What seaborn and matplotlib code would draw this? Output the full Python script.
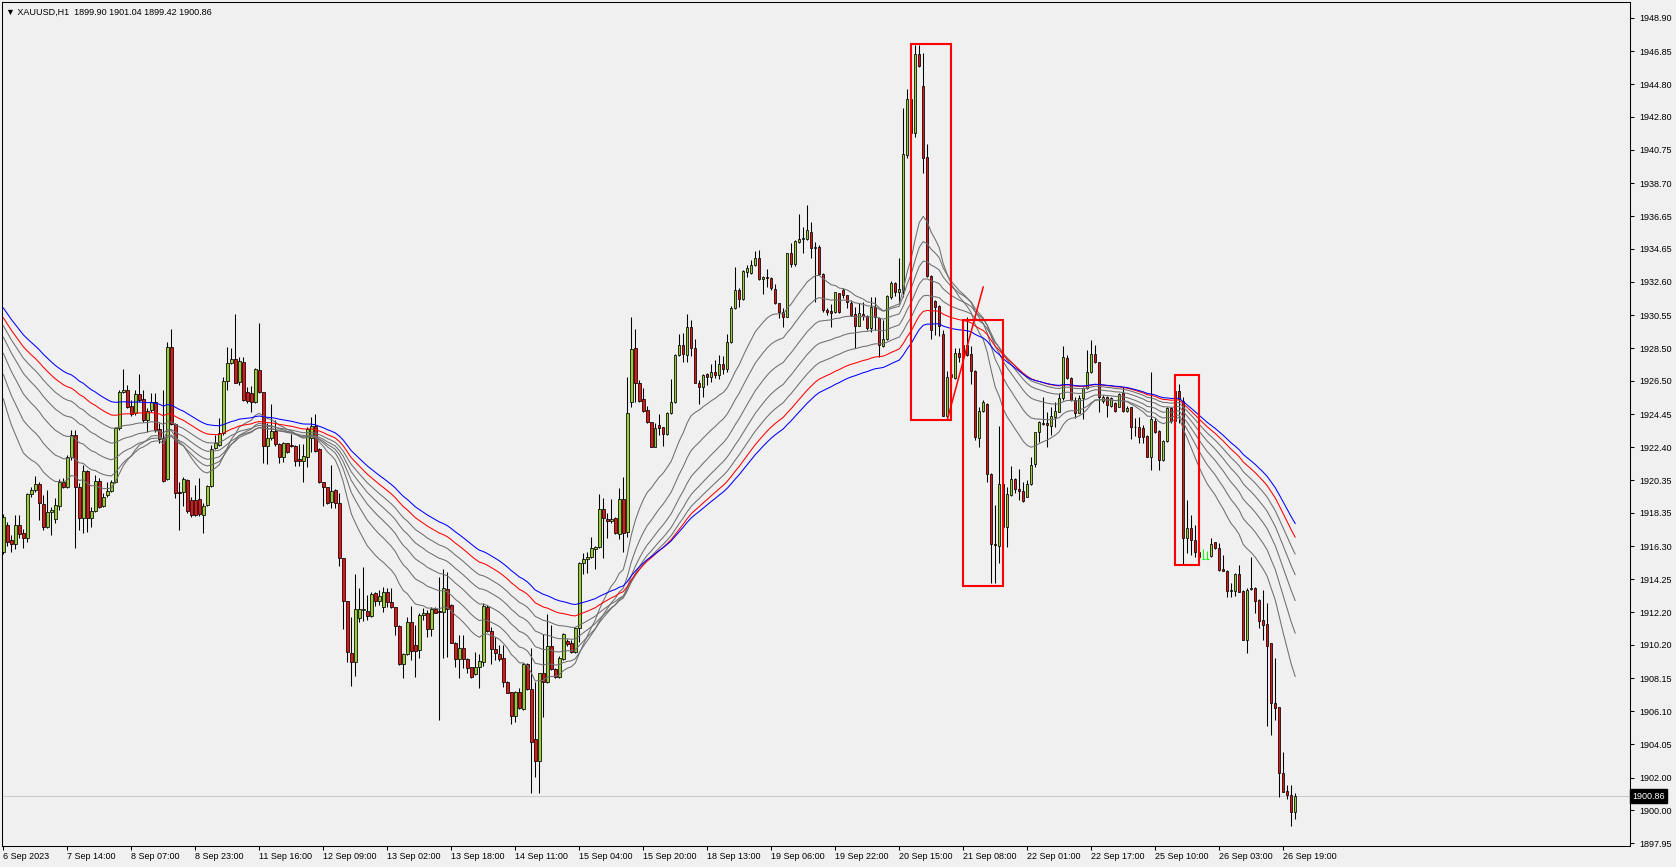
import numpy as np
import pandas as pd
import matplotlib
matplotlib.use("Agg")
import matplotlib.pyplot as plt
import seaborn as sns
from matplotlib.patches import Rectangle
from matplotlib.transforms import blended_transform_factory

# ---------------------------
# XAUUSD H1 candles (bar -1 is the one cut off at the left edge)
# ---------------------------
opens = [
    1915.95, 1917.60, 1916.67, 1916.40, 1917.58, 1917.08, 1916.77, 1919.49, 1919.74, 1920.11,
    1918.87, 1917.45, 1918.42, 1917.95, 1918.79, 1920.25, 1919.96, 1921.78, 1923.15, 1919.96,
    1918.01, 1920.93, 1918.01, 1918.46, 1920.31, 1918.79, 1919.43, 1919.70, 1920.23, 1923.61,
    1925.79, 1925.93, 1924.94, 1924.49, 1925.69, 1925.36, 1924.08, 1924.70, 1925.17, 1923.50,
    1922.95, 1920.42, 1928.57, 1923.83, 1919.66, 1919.62, 1920.38, 1919.14, 1919.14, 1919.18,
    1918.22, 1918.83, 1920.01, 1922.33, 1922.54, 1923.26, 1926.49, 1927.58, 1927.83, 1926.45,
    1927.66, 1925.79, 1925.73, 1925.21, 1927.17, 1925.79, 1922.50, 1922.95, 1923.40, 1922.58,
    1921.78, 1922.64, 1922.54, 1922.48, 1921.65, 1921.53, 1921.82, 1922.95, 1923.71, 1922.29,
    1920.23, 1919.92, 1919.00, 1919.76, 1918.94, 1915.54, 1912.91, 1909.67, 1909.16, 1911.84,
    1912.35, 1912.29, 1912.00, 1913.38, 1912.93, 1912.56, 1913.44, 1912.82, 1912.51, 1911.38,
    1909.00, 1909.61, 1911.59, 1910.19, 1909.88, 1912.02, 1912.14, 1911.16, 1912.39, 1912.29,
    1912.21, 1913.63, 1912.66, 1910.34, 1909.33, 1909.99, 1909.33, 1908.81, 1908.38, 1908.81,
    1909.16, 1912.52, 1911.08, 1909.92, 1909.62, 1909.37, 1907.93, 1907.27, 1905.83, 1907.27,
    1906.22, 1909.00, 1907.45, 1904.37, 1903.05, 1908.44, 1907.93, 1910.15, 1908.69, 1908.24,
    1909.33, 1910.44, 1910.33, 1909.78, 1911.22, 1915.23, 1915.50, 1915.64, 1916.10, 1916.22,
    1918.57, 1917.95, 1917.87, 1918.01, 1917.04, 1919.18, 1917.15, 1925.21, 1928.51, 1926.39,
    1925.36, 1924.70, 1923.94, 1922.43, 1923.77, 1923.63, 1923.20, 1924.49, 1925.17, 1928.09,
    1928.71, 1928.09, 1929.80, 1928.55, 1926.39, 1926.10, 1926.92, 1926.72, 1927.05, 1926.85,
    1927.55, 1927.25, 1928.92, 1930.98, 1932.11, 1931.53, 1933.24, 1933.13, 1933.65, 1934.06,
    1932.76, 1932.89, 1932.83, 1932.15, 1931.28, 1930.77, 1930.46, 1934.37, 1933.71, 1935.09,
    1935.23, 1935.23, 1935.67, 1934.68, 1934.78, 1933.07, 1930.87, 1930.81, 1930.73, 1931.90,
    1932.11, 1931.78, 1931.32, 1930.62, 1929.90, 1930.62, 1930.49, 1929.73, 1931.03, 1930.35,
    1928.64, 1929.05, 1931.69, 1932.55, 1931.99, 1932.10, 1940.43, 1943.87, 1941.77, 1946.67,
    1944.69, 1940.29, 1932.98, 1931.44, 1931.11, 1929.38, 1924.34, 1926.75, 1926.65, 1928.20,
    1927.95, 1928.71, 1928.16, 1927.11, 1922.99, 1924.64, 1925.05, 1920.75, 1916.41, 1916.32,
    1920.13, 1917.45, 1919.45, 1920.44, 1919.82, 1919.72, 1919.35, 1920.13, 1921.34, 1923.32,
    1923.81, 1923.88, 1923.73, 1924.29, 1924.60, 1925.42, 1927.89, 1926.66, 1925.32, 1924.54,
    1925.42, 1926.04, 1927.07, 1928.16, 1927.64, 1925.26, 1925.52, 1924.97, 1925.15, 1924.91,
    1925.73, 1924.66, 1924.87, 1923.63, 1923.63, 1923.57, 1923.10, 1921.82, 1924.04, 1923.40,
    1921.61, 1922.79, 1924.84, 1924.00, 1925.87, 1925.27, 1916.81, 1917.39, 1916.67, 1915.91,
    1915.53, 1915.53, 1915.70, 1916.52, 1916.15, 1914.88, 1914.77, 1913.54, 1913.54, 1914.55,
    1913.52, 1910.53, 1913.62, 1913.74, 1912.96, 1911.73, 1911.46, 1910.29, 1906.64, 1906.34,
    1902.32, 1901.17, 1900.96, 1899.90,
]
highs = [
    1918.30, 1917.80, 1916.98, 1918.22, 1918.22, 1917.33, 1919.55, 1919.96, 1920.62, 1920.27,
    1919.45, 1919.76, 1918.73, 1919.24, 1920.42, 1920.48, 1921.92, 1923.46, 1923.46, 1920.17,
    1921.30, 1920.99, 1918.73, 1920.68, 1920.48, 1919.55, 1920.27, 1920.38, 1923.67, 1925.93,
    1927.20, 1926.24, 1925.32, 1925.93, 1926.90, 1925.93, 1924.80, 1925.73, 1925.73, 1923.88,
    1925.93, 1928.88, 1929.68, 1923.88, 1920.27, 1920.58, 1920.42, 1919.35, 1920.07, 1920.48,
    1918.94, 1920.07, 1922.54, 1923.16, 1924.18, 1926.76, 1928.61, 1928.55, 1930.63, 1927.99,
    1927.95, 1926.14, 1926.18, 1927.27, 1930.05, 1925.83, 1923.88, 1925.05, 1924.08, 1922.64,
    1922.74, 1922.68, 1923.22, 1922.54, 1922.60, 1922.60, 1923.67, 1924.25, 1924.45, 1922.33,
    1920.27, 1919.96, 1921.30, 1919.80, 1919.55, 1915.58, 1912.93, 1911.90, 1914.57, 1913.69,
    1914.98, 1913.28, 1913.48, 1913.48, 1913.59, 1913.75, 1913.69, 1913.69, 1912.56, 1911.42,
    1909.67, 1911.94, 1912.60, 1911.42, 1912.14, 1912.45, 1912.35, 1912.56, 1912.56, 1914.41,
    1914.90, 1914.72, 1912.70, 1910.40, 1910.81, 1910.81, 1909.37, 1908.85, 1909.78, 1909.62,
    1912.81, 1912.66, 1911.32, 1910.67, 1910.19, 1910.19, 1907.99, 1907.31, 1907.37, 1907.52,
    1909.06, 1909.06, 1909.99, 1907.93, 1908.48, 1910.87, 1912.09, 1911.43, 1908.75, 1909.51,
    1910.95, 1910.56, 1910.50, 1911.32, 1915.33, 1915.89, 1915.95, 1916.84, 1916.30, 1919.51,
    1919.24, 1918.32, 1919.18, 1918.07, 1919.86, 1920.54, 1926.76, 1930.42, 1929.68, 1926.55,
    1926.04, 1924.95, 1923.98, 1923.88, 1924.45, 1923.67, 1924.55, 1926.59, 1928.16, 1929.39,
    1929.43, 1930.63, 1930.26, 1929.06, 1926.55, 1926.92, 1927.00, 1927.55, 1927.80, 1928.10,
    1928.00, 1929.39, 1931.12, 1933.51, 1932.21, 1933.34, 1933.65, 1933.96, 1934.51, 1934.58,
    1932.99, 1933.40, 1932.89, 1932.46, 1931.32, 1930.98, 1934.41, 1934.99, 1935.19, 1936.80,
    1935.98, 1937.35, 1936.33, 1935.09, 1934.88, 1933.13, 1930.98, 1931.24, 1932.00, 1931.94,
    1932.25, 1931.82, 1931.48, 1931.07, 1931.32, 1931.38, 1930.55, 1931.69, 1931.69, 1930.45,
    1930.25, 1931.79, 1932.67, 1932.61, 1934.05, 1943.31, 1944.51, 1944.20, 1947.22, 1947.22,
    1946.75, 1941.11, 1933.02, 1931.48, 1931.17, 1929.63, 1927.12, 1927.40, 1928.51, 1928.51,
    1929.43, 1930.46, 1928.67, 1927.17, 1924.90, 1925.32, 1925.15, 1920.79, 1918.83, 1923.71,
    1920.40, 1919.97, 1921.24, 1920.48, 1921.06, 1920.27, 1920.38, 1921.82, 1923.36, 1924.04,
    1925.48, 1924.55, 1924.86, 1925.21, 1925.77, 1928.65, 1928.09, 1926.76, 1925.52, 1925.63,
    1926.14, 1928.41, 1929.02, 1928.71, 1927.68, 1925.63, 1925.56, 1925.52, 1925.21, 1925.77,
    1926.14, 1924.95, 1924.91, 1924.19, 1924.25, 1923.77, 1923.16, 1927.07, 1924.19, 1923.47,
    1922.85, 1924.91, 1924.91, 1925.93, 1926.30, 1925.52, 1919.14, 1918.21, 1917.59, 1916.05,
    1916.09, 1916.01, 1916.77, 1916.57, 1916.46, 1915.74, 1914.81, 1913.99, 1914.61, 1915.12,
    1913.58, 1913.68, 1915.60, 1913.78, 1913.00, 1913.58, 1912.76, 1910.33, 1909.36, 1906.38,
    1903.56, 1901.54, 1901.54, 1901.04,
]
lows = [
    1915.80, 1916.32, 1915.95, 1916.10, 1916.77, 1916.16, 1916.57, 1919.31, 1919.66, 1917.91,
    1917.29, 1917.39, 1916.98, 1917.70, 1918.52, 1919.86, 1919.86, 1921.61, 1916.16, 1917.29,
    1917.08, 1917.19, 1917.49, 1918.38, 1918.63, 1918.73, 1919.35, 1919.66, 1920.17, 1923.46,
    1925.73, 1924.80, 1924.33, 1924.39, 1925.21, 1923.98, 1923.32, 1924.60, 1923.36, 1922.64,
    1920.27, 1920.38, 1923.77, 1919.24, 1917.29, 1918.77, 1918.32, 1918.07, 1918.15, 1918.15,
    1917.13, 1918.77, 1919.97, 1922.27, 1922.50, 1923.16, 1925.93, 1927.54, 1926.34, 1926.24,
    1925.28, 1925.11, 1924.60, 1925.11, 1925.73, 1921.41, 1921.34, 1922.85, 1922.50, 1921.41,
    1921.51, 1922.02, 1922.43, 1921.24, 1921.24, 1920.27, 1921.16, 1922.13, 1922.13, 1920.17,
    1918.79, 1918.89, 1918.63, 1918.63, 1915.09, 1911.16, 1909.12, 1907.66, 1908.30, 1911.63,
    1911.69, 1911.73, 1911.94, 1912.62, 1912.66, 1912.21, 1912.56, 1912.45, 1910.81, 1908.95,
    1908.13, 1909.57, 1909.26, 1908.23, 1909.37, 1911.73, 1910.70, 1910.75, 1912.15, 1905.56,
    1909.41, 1909.47, 1910.29, 1908.85, 1908.13, 1908.75, 1908.44, 1908.16, 1908.34, 1907.56,
    1908.90, 1911.02, 1909.02, 1909.27, 1909.22, 1907.62, 1907.21, 1905.29, 1905.46, 1906.22,
    1906.18, 1907.41, 1901.08, 1902.02, 1901.08, 1905.73, 1907.87, 1908.65, 1908.13, 1908.18,
    1909.27, 1910.13, 1909.68, 1909.72, 1910.40, 1914.55, 1914.61, 1915.54, 1914.86, 1916.16,
    1915.54, 1916.78, 1917.74, 1917.04, 1916.71, 1915.95, 1916.84, 1924.86, 1925.21, 1925.21,
    1924.60, 1923.88, 1922.40, 1922.40, 1923.16, 1922.48, 1923.16, 1924.45, 1925.11, 1928.03,
    1927.68, 1927.68, 1928.03, 1926.34, 1925.07, 1925.52, 1926.24, 1926.40, 1926.70, 1926.60,
    1926.95, 1927.05, 1928.86, 1930.91, 1931.04, 1931.49, 1932.93, 1933.09, 1933.59, 1932.72,
    1931.86, 1932.31, 1932.11, 1931.24, 1930.36, 1929.84, 1930.42, 1933.51, 1933.59, 1935.03,
    1934.37, 1935.19, 1934.06, 1931.39, 1933.03, 1930.77, 1930.56, 1929.80, 1930.67, 1930.71,
    1931.59, 1930.98, 1930.49, 1928.50, 1929.88, 1930.25, 1929.63, 1929.53, 1929.63, 1927.98,
    1928.60, 1929.01, 1931.52, 1931.73, 1931.27, 1931.69, 1940.23, 1941.50, 1941.56, 1945.90,
    1939.30, 1932.92, 1929.05, 1929.32, 1929.26, 1924.30, 1924.08, 1925.90, 1926.61, 1927.68,
    1927.70, 1928.03, 1926.30, 1922.85, 1922.43, 1924.60, 1920.27, 1914.04, 1914.00, 1915.23,
    1917.08, 1916.26, 1919.39, 1919.55, 1919.14, 1919.04, 1919.31, 1920.07, 1921.20, 1922.74,
    1923.77, 1922.43, 1923.16, 1923.67, 1924.55, 1925.32, 1926.59, 1925.28, 1924.19, 1924.49,
    1924.12, 1925.98, 1926.96, 1927.58, 1924.60, 1925.11, 1924.25, 1924.91, 1924.60, 1924.87,
    1924.60, 1924.60, 1922.89, 1923.10, 1922.64, 1922.64, 1921.78, 1921.00, 1923.26, 1921.00,
    1921.57, 1922.75, 1923.90, 1922.39, 1923.87, 1915.19, 1915.84, 1915.74, 1915.64, 1915.47,
    1915.53, 1915.53, 1915.64, 1916.09, 1914.77, 1914.75, 1913.13, 1913.13, 1913.21, 1913.44,
    1910.49, 1909.71, 1913.58, 1912.18, 1911.21, 1910.49, 1905.18, 1904.63, 1905.55, 1900.78,
    1901.09, 1900.66, 1899.03, 1899.42,
]
closes = [
    1918.11, 1916.57, 1916.42, 1917.58, 1917.04, 1916.77, 1919.51, 1919.74, 1920.11, 1918.98,
    1917.45, 1918.38, 1918.52, 1918.83, 1920.25, 1919.96, 1921.78, 1923.15, 1919.96, 1918.01,
    1920.93, 1918.01, 1918.46, 1920.31, 1918.73, 1919.31, 1919.70, 1920.23, 1923.61, 1925.79,
    1925.93, 1924.90, 1924.43, 1925.69, 1925.32, 1924.08, 1924.66, 1925.17, 1923.46, 1922.89,
    1920.34, 1928.57, 1923.83, 1919.55, 1919.55, 1920.42, 1918.48, 1918.22, 1918.22, 1918.28,
    1918.79, 1920.01, 1922.29, 1922.68, 1923.26, 1926.49, 1927.58, 1927.83, 1926.39, 1927.72,
    1925.32, 1925.27, 1925.17, 1927.23, 1925.79, 1922.50, 1922.95, 1923.40, 1922.58, 1921.78,
    1922.64, 1922.13, 1922.48, 1921.57, 1921.53, 1921.86, 1923.50, 1923.71, 1922.19, 1920.23,
    1919.92, 1918.94, 1919.70, 1918.94, 1915.54, 1912.91, 1909.74, 1909.16, 1912.41, 1912.41,
    1912.41, 1911.98, 1913.32, 1912.93, 1913.21, 1913.44, 1912.82, 1912.51, 1911.36, 1909.00,
    1909.61, 1911.59, 1909.84, 1909.84, 1912.04, 1912.14, 1911.16, 1912.39, 1912.19, 1912.21,
    1913.69, 1912.39, 1910.34, 1909.33, 1909.99, 1909.33, 1908.75, 1908.20, 1908.81, 1909.20,
    1912.60, 1911.08, 1909.92, 1909.68, 1909.33, 1907.93, 1907.25, 1905.83, 1907.27, 1906.28,
    1909.00, 1907.45, 1904.22, 1903.05, 1908.44, 1907.93, 1910.15, 1908.69, 1908.24, 1909.41,
    1910.85, 1910.25, 1909.74, 1911.22, 1915.27, 1915.50, 1915.64, 1916.16, 1916.22, 1918.57,
    1918.01, 1917.87, 1917.95, 1917.08, 1919.18, 1917.08, 1924.49, 1928.44, 1926.39, 1925.27,
    1924.66, 1923.98, 1922.43, 1923.57, 1923.61, 1923.20, 1924.49, 1925.17, 1928.09, 1928.71,
    1928.14, 1929.80, 1928.55, 1926.39, 1926.10, 1926.86, 1926.72, 1927.05, 1926.85, 1927.55,
    1927.25, 1928.92, 1930.98, 1932.11, 1931.53, 1933.28, 1933.44, 1933.65, 1934.06, 1932.76,
    1932.89, 1932.83, 1932.21, 1931.28, 1930.77, 1930.46, 1934.37, 1933.71, 1935.13, 1935.23,
    1935.30, 1935.81, 1934.68, 1934.78, 1933.09, 1930.87, 1930.77, 1930.71, 1931.96, 1930.73,
    1931.80, 1931.34, 1930.55, 1929.90, 1930.66, 1930.49, 1929.73, 1931.03, 1930.41, 1928.70,
    1929.05, 1931.73, 1932.51, 1931.99, 1932.14, 1940.47, 1943.87, 1941.77, 1946.67, 1945.95,
    1940.27, 1932.98, 1929.63, 1931.07, 1929.90, 1924.34, 1926.75, 1926.90, 1928.20, 1927.95,
    1928.71, 1928.09, 1927.11, 1923.01, 1924.64, 1925.17, 1920.75, 1916.41, 1916.36, 1920.13,
    1917.45, 1919.51, 1920.44, 1919.80, 1919.72, 1919.08, 1920.13, 1921.30, 1923.32, 1923.94,
    1923.88, 1923.77, 1924.33, 1924.64, 1925.42, 1927.95, 1926.65, 1925.32, 1924.54, 1925.46,
    1926.04, 1927.07, 1928.16, 1927.64, 1925.52, 1925.52, 1925.01, 1925.46, 1924.66, 1925.69,
    1924.66, 1924.80, 1923.63, 1923.67, 1923.05, 1923.05, 1921.82, 1924.12, 1923.36, 1921.61,
    1922.79, 1924.84, 1924.00, 1925.87, 1925.37, 1916.77, 1917.39, 1916.67, 1915.91, 1915.64,
    1915.53, 1915.53, 1916.42, 1916.15, 1914.81, 1914.77, 1913.54, 1913.58, 1914.55, 1913.48,
    1910.53, 1913.58, 1913.74, 1912.92, 1911.69, 1911.42, 1910.14, 1906.62, 1906.32, 1902.30,
    1901.13, 1900.92, 1899.90, 1900.86,
]

# moving averages: EMA period and the value each line has at the left edge
ma_periods = [20, 30, 40, 50, 60, 70, 80]
ma_start = [1925.4, 1926.9, 1928.2, 1929.2, 1929.9, 1930.4, 1931.0]
ma_colors = ["#6e6e6e", "#6e6e6e", "#6e6e6e", "#6e6e6e", "#6e6e6e", "#ff0000", "#0000ff"]

# time axis labels, one every 16 bars starting at bar -1
time_labels = ["6 Sep 2023", "7 Sep 14:00", "8 Sep 07:00", "8 Sep 23:00", "11 Sep 16:00",
               "12 Sep 09:00", "13 Sep 02:00", "13 Sep 18:00", "14 Sep 11:00", "15 Sep 04:00",
               "15 Sep 20:00", "18 Sep 13:00", "19 Sep 06:00", "19 Sep 22:00", "20 Sep 15:00",
               "21 Sep 08:00", "22 Sep 01:00", "22 Sep 17:00", "25 Sep 10:00", "26 Sep 03:00",
               "26 Sep 19:00"]
price_labels = ["1948.90", "1946.85", "1944.80", "1942.80", "1940.75", "1938.70", "1936.65",
                "1934.65", "1932.60", "1930.55", "1928.50", "1926.50", "1924.45", "1922.40",
                "1920.35", "1918.35", "1916.30", "1914.25", "1912.20", "1910.20", "1908.15",
                "1906.10", "1904.05", "1902.00", "1900.00", "1897.95"]

# drawn objects: rectangles (bar from, bar to, price low, price high) and a trend line
boxes = [(226, 236, 1924.07, 1947.27), (239, 249, 1913.85, 1930.24), (292, 298, 1915.14, 1926.86)]
trend_bars = [235, 244]
trend_prices = [1924.08, 1932.30]

bid = closes[-1]

# ---------------------------
# build frame
# ---------------------------
bars = np.arange(-1, len(closes) - 1)
df = pd.DataFrame({"bar": bars, "open": opens, "high": highs, "low": lows, "close": closes})

bg = "#f0f0f0"
sns.set_style("white", {"axes.facecolor": bg, "figure.facecolor": bg})
plt.rcParams["font.family"] = ["Liberation Sans", "DejaVu Sans"]

fig = plt.figure(figsize=(16.76, 8.67), dpi=100)
ax = fig.add_axes([2 / 1676, 21 / 867, 1628 / 1676, 844 / 867])
ax.set_facecolor(bg)

# bid line
ax.axhline(bid, color="#c8c8c8", lw=0.75, zorder=0)

# candles
up = df[df.close > df.open]
dn = df[df.close < df.open]
dj = df[df.close == df.open]
solid = df[df.close != df.open]
ax.vlines(solid.bar, solid.low, solid.high, color="black", lw=0.75, zorder=1)
ax.bar(up.bar, up.close - up.open, bottom=up.open, width=0.62, color="#9acd32",
       edgecolor="black", linewidth=0.55, zorder=2)
ax.bar(dn.bar, dn.open - dn.close, bottom=dn.close, width=0.62, color="#e31414",
       edgecolor="black", linewidth=0.55, zorder=2)
ax.vlines(dj.bar, dj.low, dj.high, color="#00ff00", lw=0.75, zorder=2)
ax.hlines(dj.close, dj.bar - 0.4, dj.bar + 0.4, color="#00ff00", lw=0.75, zorder=2)

# moving averages
for p, s0, c in zip(ma_periods, ma_start, ma_colors):
    src = pd.concat([pd.Series([s0]), df.close.iloc[1:]], ignore_index=True)
    ema = src.ewm(span=p, adjust=False).mean()
    sns.lineplot(x=df.bar, y=ema, color=c, linewidth=0.75, ax=ax, zorder=3)

# rectangles and trend line
for b0, b1, p0, p1 in boxes:
    ax.add_patch(Rectangle((b0, p0), b1 - b0, p1 - p0, fill=False, edgecolor="#ff0000",
                           linewidth=1.5, zorder=4))
ax.plot(trend_bars, trend_prices, color="#ff0000", lw=1.1, zorder=4)

# ---------------------------
# axes
# ---------------------------
ax.set_xlim(-1.325, 405.7)
ax.set_ylim(1897.783, 1949.883)
ax.set_xlabel("")
ax.set_ylabel("")

ax.yaxis.tick_right()
ax.set_yticks([float(v) for v in price_labels])
ax.set_yticklabels(price_labels)
ax.set_xticks(np.arange(len(time_labels)) * 16 - 1)
ax.set_xticklabels(time_labels)
for t in ax.get_xticklabels():
    t.set_ha("left")
ax.tick_params(axis="y", direction="out", length=3, width=0.75, pad=4, labelsize=6.5,
               colors="black", right=True, left=False)
ax.tick_params(axis="x", direction="out", length=3, width=0.75, pad=1.5, labelsize=6.5,
               colors="black", bottom=True)
for s in ax.spines.values():
    s.set_color("black")
    s.set_linewidth(0.75)
    s.set_visible(True)

# current price tag on the price scale
tr = blended_transform_factory(ax.transAxes, ax.transData)
ax.text(1.0015, bid, f"{bid:.2f}", transform=tr, ha="left", va="center", fontsize=6.5,
        color="white", zorder=5, clip_on=False,
        bbox=dict(boxstyle="square,pad=0.25", facecolor="black", edgecolor="black"))

# symbol line at top left
fig.text(6 / 1676, 1 - 12 / 867, "\u25bc XAUUSD,H1  %.2f %.2f %.2f %.2f" % (opens[-1], highs[-1], lows[-1], closes[-1]),
         ha="left", va="center", fontsize=6.5, color="black")

fig.savefig("out.png", dpi=100, facecolor=bg)
